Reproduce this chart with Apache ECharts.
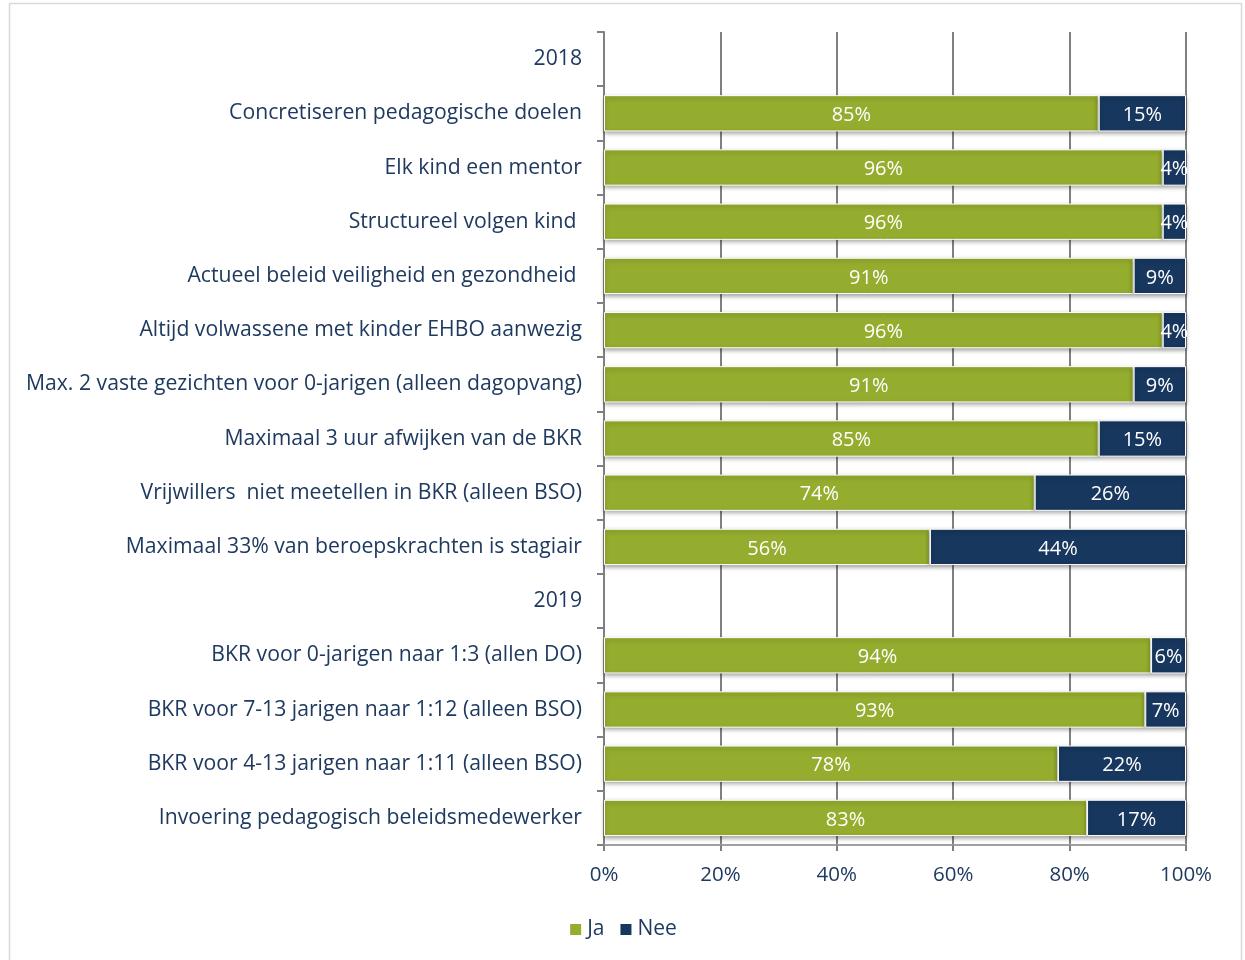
<!DOCTYPE html>
<html>
<head>
<meta charset="utf-8">
<script src="https://cdn.jsdelivr.net/npm/echarts@6/dist/echarts.min.js"></script>
<style>
  html, body { margin: 0; padding: 0; background: #fff; }
  #chart { width: 1245px; height: 960px; }
</style>
</head>
<body>
<div id="chart"></div>
<script>
// categories, top to bottom ('2018' and '2019' are header rows without bars)
const categories = [
  '2018',
  'Concretiseren pedagogische doelen',
  'Elk kind een mentor',
  'Structureel volgen kind ',
  'Actueel beleid veiligheid en gezondheid ',
  'Altijd volwassene met kinder EHBO aanwezig',
  'Max. 2 vaste gezichten voor 0-jarigen (alleen dagopvang)',
  'Maximaal 3 uur afwijken van de BKR',
  'Vrijwillers  niet meetellen in BKR (alleen BSO)',
  'Maximaal 33% van beroepskrachten is stagiair',
  '2019',
  'BKR voor 0-jarigen naar 1:3 (allen DO)',
  'BKR voor 7-13 jarigen naar 1:12 (alleen BSO)',
  'BKR voor 4-13 jarigen naar 1:11 (alleen BSO)',
  'Invoering pedagogisch beleidsmedewerker'
];
const jaValues = [null, 85, 96, 96, 91, 96, 91, 85, 74, 56, null, 94, 93, 78, 83];
const neeValues = [null, 15, 4, 4, 9, 4, 9, 15, 26, 44, null, 6, 7, 22, 17];

const textColor = '#1F3A60';
const font = 'Open Sans';

const chart = echarts.init(document.getElementById('chart'));

const barStyle = (color) => ({
  color: color,
  borderColor: '#fff',
  borderWidth: 1,
  shadowColor: 'rgba(0,0,0,0.35)',
  shadowBlur: 4,
  shadowOffsetY: 2
});

const labelStyle = {
  show: true,
  position: 'inside',
  color: '#fff',
  fontFamily: font,
  fontSize: 20,
  offset: [0, 2],
  formatter: p => p.value + '%'
};

chart.setOption({
  backgroundColor: '#fff',
  animation: false,
  graphic: [{
    type: 'rect',
    shape: { x: 9.5, y: 3.5, width: 1232, height: 970 },
    style: { fill: 'none', stroke: '#d9d9d9', lineWidth: 1.5 },
    silent: true
  }],
  grid: {
    left: 604,
    right: 59,
    top: 32,
    bottom: 115
  },
  legend: {
    bottom: 15,
    left: 'center',
    itemWidth: 13,
    itemHeight: 13,
    itemGap: 14,
    icon: 'rect',
    textStyle: { color: textColor, fontFamily: font, fontSize: 21 },
    data: ['Ja', 'Nee']
  },
  xAxis: {
    type: 'value',
    min: 0,
    max: 100,
    interval: 20,
    axisLabel: {
      formatter: '{value}%',
      color: textColor,
      fontFamily: font,
      fontSize: 20.5,
      margin: 20
    },
    axisLine: { show: true, lineStyle: { color: '#a0a0a0', width: 2 } },
    axisTick: { show: true, length: 6, lineStyle: { color: '#808080', width: 2 } },
    splitLine: { show: true, lineStyle: { color: '#808080', width: 2 } }
  },
  yAxis: {
    type: 'category',
    inverse: true,
    data: categories,
    axisLabel: {
      color: textColor,
      fontFamily: font,
      fontSize: 21.2,
      margin: 22,
      padding: [7, 0, 0, 0]
    },
    axisLine: { show: true, lineStyle: { color: '#808080', width: 2 } },
    axisTick: { show: true, length: 7, lineStyle: { color: '#808080', width: 2 } }
  },
  series: [
    {
      name: 'Ja',
      type: 'bar',
      stack: 'total',
      barWidth: '67%',
      data: jaValues,
      itemStyle: barStyle('#94AD2E'),
      label: labelStyle
    },
    {
      name: 'Nee',
      type: 'bar',
      stack: 'total',
      data: neeValues,
      itemStyle: barStyle('#17375E'),
      label: labelStyle
    }
  ]
});
</script>
</body>
</html>
